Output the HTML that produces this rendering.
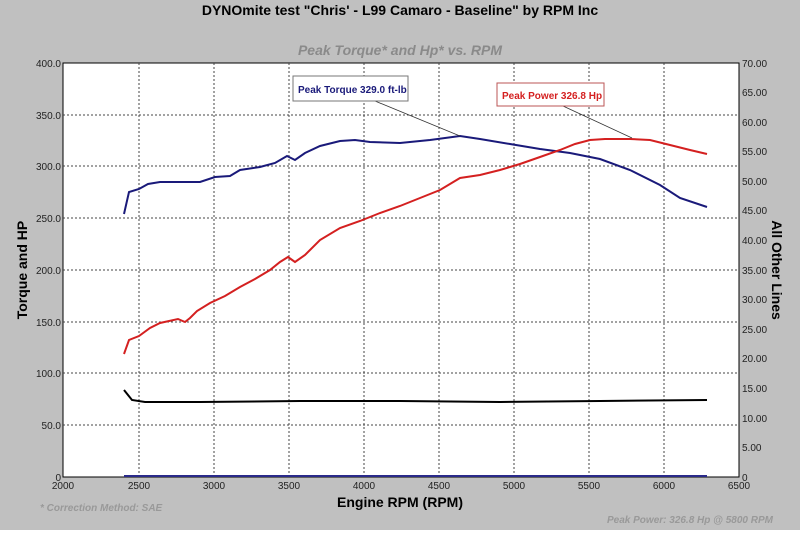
<!DOCTYPE html>
<html><head><style>body{margin:0;background:#fff}svg{display:block}</style></head><body>
<svg width="800" height="559" xmlns="http://www.w3.org/2000/svg" font-family="Liberation Sans, Arial, sans-serif">
<rect x="0" y="0" width="800" height="530" fill="#c0c0c0"/>
<text x="400" y="15" text-anchor="middle" font-size="14" font-weight="bold" fill="#000">DYNOmite test "Chris' - L99 Camaro - Baseline" by RPM Inc</text>
<text x="400" y="55" text-anchor="middle" font-size="14" font-weight="bold" font-style="italic" fill="#8a8a8a">Peak Torque* and Hp* vs. RPM</text>
<rect x="63" y="63" width="676" height="414" fill="#fff" stroke="#000"/>
<g stroke="#444" stroke-width="1" stroke-dasharray="2,2">
<line x1="139" y1="63" x2="139" y2="477"/><line x1="214" y1="63" x2="214" y2="477"/><line x1="289" y1="63" x2="289" y2="477"/><line x1="364" y1="63" x2="364" y2="477"/><line x1="439" y1="63" x2="439" y2="477"/><line x1="514" y1="63" x2="514" y2="477"/><line x1="589" y1="63" x2="589" y2="477"/><line x1="664" y1="63" x2="664" y2="477"/>
<line x1="63" y1="115" x2="739" y2="115"/><line x1="63" y1="166" x2="739" y2="166"/><line x1="63" y1="218" x2="739" y2="218"/><line x1="63" y1="270" x2="739" y2="270"/><line x1="63" y1="322" x2="739" y2="322"/><line x1="63" y1="373" x2="739" y2="373"/><line x1="63" y1="425" x2="739" y2="425"/>
</g>
<g font-size="10" fill="#222" text-anchor="end">
<text x="61" y="67">400.0</text><text x="61" y="119">350.0</text><text x="61" y="170">300.0</text><text x="61" y="222">250.0</text><text x="61" y="274">200.0</text><text x="61" y="326">150.0</text><text x="61" y="377">100.0</text><text x="61" y="429">50.0</text><text x="61" y="481">0</text>
</g>
<g font-size="10" fill="#222">
<text x="742" y="67">70.00</text><text x="742" y="96">65.00</text><text x="742" y="126">60.00</text><text x="742" y="155">55.00</text><text x="742" y="185">50.00</text><text x="742" y="214">45.00</text><text x="742" y="244">40.00</text><text x="742" y="274">35.00</text><text x="742" y="303">30.00</text><text x="742" y="333">25.00</text><text x="742" y="362">20.00</text><text x="742" y="392">15.00</text><text x="742" y="422">10.00</text><text x="742" y="451">5.00</text><text x="742" y="481">0</text>
</g>
<g font-size="10" fill="#222" text-anchor="middle">
<text x="63" y="489">2000</text><text x="139" y="489">2500</text><text x="214" y="489">3000</text><text x="289" y="489">3500</text><text x="364" y="489">4000</text><text x="439" y="489">4500</text><text x="514" y="489">5000</text><text x="589" y="489">5500</text><text x="664" y="489">6000</text><text x="739" y="489">6500</text>
</g>
<text x="400" y="507" text-anchor="middle" font-size="14" font-weight="bold">Engine RPM (RPM)</text>
<text transform="translate(27,270) rotate(-90)" text-anchor="middle" font-size="14" font-weight="bold">Torque and HP</text>
<text transform="translate(772,270) rotate(90)" text-anchor="middle" font-size="14" font-weight="bold">All Other Lines</text>
<text x="40" y="511" font-size="10" font-weight="bold" font-style="italic" fill="#999">* Correction Method: SAE</text>
<text x="607" y="523" font-size="10" font-weight="bold" font-style="italic" fill="#999">Peak Power: 326.8 Hp @ 5800 RPM</text>
<line x1="124" y1="476" x2="707" y2="476" stroke="#2a2a8a" stroke-width="2"/>
<polyline fill="none" stroke="#000" stroke-width="2" points="124,390 132,400 145,402 200,402 300,401 400,401 500,402 600,401 707,400"/>
<polyline fill="none" stroke="#1a1a7a" stroke-width="2" points="124,214 129,192 139,189 148,184 160,182 200,182 215,177 230,176 240,170 260,167 275,163 287,156 295,160 305,153 320,146 340,141 355,140 370,142 400,143 430,140 460,136 480,139 510,144 540,149 570,153 600,159 630,170 660,185 680,198 707,207"/>
<polyline fill="none" stroke="#d42020" stroke-width="2" points="124,354 129,340 139,336 150,328 160,323 178,319 185,322 190,318 197,311 210,303 225,296 240,287 255,279 270,270 280,262 288,257 295,262 305,255 320,240 340,228 360,221 380,213 400,206 420,198 440,190 460,178 480,175 500,170 520,164 540,157 560,150 575,144 590,140 605,139 630,139 650,140 670,145 690,150 707,154"/>
<line x1="375" y1="101" x2="460" y2="136" stroke="#333" stroke-width="0.8"/>
<line x1="563" y1="106" x2="632" y2="138" stroke="#333" stroke-width="0.8"/>
<rect x="293" y="76" width="115" height="25" fill="#fff" stroke="#777"/>
<text x="298" y="93" font-size="10" font-weight="bold" fill="#1a1a7a">Peak Torque 329.0 ft-lb</text>
<rect x="497" y="83" width="107" height="23" fill="#fff" stroke="#b55"/>
<text x="502" y="99" font-size="10" font-weight="bold" fill="#d42020">Peak Power 326.8 Hp</text>
</svg>
</body></html>
